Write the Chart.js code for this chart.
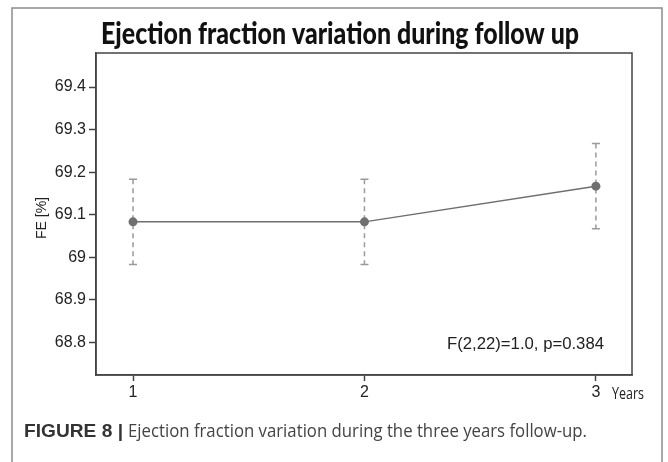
<!DOCTYPE html>
<html>
<head>
<meta charset="utf-8">
<script src="https://cdn.jsdelivr.net/npm/chart.js@4"></script>
<style>
  html, body { margin: 0; padding: 0; background: #fff; }
</style>
</head>
<body>
<canvas id="fe-chart" width="668" height="462"></canvas>
<script>
// Data
const years = [1, 2, 3];
const meanFE = [69.083, 69.083, 69.167];
const lowerFE = [68.983, 68.983, 69.067];
const upperFE = [69.183, 69.183, 69.267];
const xTicks = [1, 2, 3];
const yTicks = [68.8, 68.9, 69, 69.1, 69.2, 69.3, 69.4];

const titleText = "Ejection fraction variation during follow up";
const yTitle = "FE [%]";
const xTitle = "Years";
const statText = "F(2,22)=1.0, p=0.384";
const captionBold = "FIGURE 8 |";
const captionText = "Ejection fraction variation during the three years follow-up.";

// squeeze text to a given width (the original uses a condensed face)
const fitText = (ctx, text, x, y, width) => {
  const w = ctx.measureText(text).width;
  ctx.save();
  ctx.translate(x, y);
  ctx.scale(width / w, 1);
  ctx.textAlign = "left";
  ctx.fillText(text, 0, 0);
  ctx.restore();
};

// dashed error bars with caps
const errorBars = {
  id: "errorBars",
  beforeDatasetsDraw(chart) {
    const { ctx, scales } = chart;
    ctx.save();
    ctx.strokeStyle = "#9a9a9a";
    ctx.lineWidth = 1.5;
    years.forEach((yr, i) => {
      const x = scales.x.getPixelForValue(yr);
      const yHi = scales.y.getPixelForValue(upperFE[i]);
      const yLo = scales.y.getPixelForValue(lowerFE[i]);
      ctx.setLineDash([5, 4]);
      ctx.beginPath();
      ctx.moveTo(x, yHi);
      ctx.lineTo(x, yLo);
      ctx.stroke();
      ctx.setLineDash([]);
      ctx.beginPath();
      ctx.moveTo(x - 4, yHi);
      ctx.lineTo(x + 4, yHi);
      ctx.moveTo(x - 4, yLo);
      ctx.lineTo(x + 4, yLo);
      ctx.stroke();
    });
    ctx.restore();
  },
};

// frame, titles, note and caption
const decorations = {
  id: "decorations",
  afterDraw(chart) {
    const { ctx, chartArea: a } = chart;
    ctx.save();

    // outer figure frame
    ctx.strokeStyle = "#8c8c8c";
    ctx.lineWidth = 1.5;
    ctx.strokeRect(12, 8, 650, 480);

    // plot box
    ctx.strokeStyle = "#444";
    ctx.lineWidth = 1.5;
    ctx.strokeRect(a.left, a.top, a.right - a.left, a.bottom - a.top);

    // title
    ctx.fillStyle = "#111";
    ctx.textBaseline = "alphabetic";
    ctx.font = "900 30px Lato";
    fitText(ctx, titleText, 101, 44, 478);

    // y axis title
    ctx.fillStyle = "#222";
    ctx.font = "14px 'Liberation Sans'";
    ctx.save();
    ctx.translate(46, 218);
    ctx.rotate(-Math.PI / 2);
    ctx.textAlign = "center";
    ctx.fillText(yTitle, 0, 0);
    ctx.restore();

    // x axis unit
    ctx.font = "17px 'Open Sans'";
    fitText(ctx, xTitle, 612, 399, 32);

    // statistic
    ctx.font = "16px 'Liberation Sans'";
    fitText(ctx, statText, 447, 349, 157);

    // caption
    ctx.fillStyle = "#333";
    ctx.font = "bold 18px 'Liberation Sans'";
    fitText(ctx, captionBold, 24, 437, 99);
    ctx.fillStyle = "#444";
    ctx.font = "18px 'Open Sans'";
    fitText(ctx, captionText, 128, 437, 459);

    ctx.restore();
  },
};

const ctx = document.getElementById("fe-chart");

new Chart(ctx, {
  type: "line",
  data: {
    datasets: [
      {
        data: years.map((yr, i) => ({ x: yr, y: meanFE[i] })),
        borderColor: "#6e6e6e",
        borderWidth: 1.5,
        pointRadius: 4.5,
        pointBackgroundColor: "#707070",
        pointBorderWidth: 0,
        tension: 0,
      },
    ],
  },
  options: {
    responsive: false,
    animation: false,
    layout: { padding: { left: 0, top: 53, right: 36, bottom: 0 } },
    plugins: {
      legend: { display: false },
      tooltip: { enabled: false },
    },
    scales: {
      x: {
        type: "linear",
        min: 0.84,
        max: 3.156,
        afterBuildTicks: (scale) => {
          scale.ticks = xTicks.map((v) => ({ value: v }));
        },
        afterFit: (scale) => {
          scale.height = 87;
        },
        grid: {
          drawOnChartArea: false,
          drawTicks: true,
          tickLength: 6,
          tickWidth: 1.5,
          color: "#444",
        },
        border: { display: true, color: "#444", width: 1.5 },
        ticks: {
          padding: 2,
          color: "#222",
          font: { family: "Liberation Sans", size: 16 },
          callback: (v) => String(v),
        },
      },
      y: {
        type: "linear",
        min: 68.723,
        max: 69.48,
        afterBuildTicks: (scale) => {
          scale.ticks = yTicks.map((v) => ({ value: v }));
        },
        afterFit: (scale) => {
          scale.width = 96;
        },
        grid: {
          drawOnChartArea: false,
          drawTicks: true,
          tickLength: 7,
          tickWidth: 1.5,
          color: "#444",
        },
        border: { display: true, color: "#444", width: 1.5 },
        ticks: {
          padding: 3,
          color: "#222",
          font: { family: "Liberation Sans", size: 16 },
          callback: (v) => String(+v.toFixed(1)),
        },
      },
    },
  },
  plugins: [errorBars, decorations],
});
</script>
</body>
</html>
